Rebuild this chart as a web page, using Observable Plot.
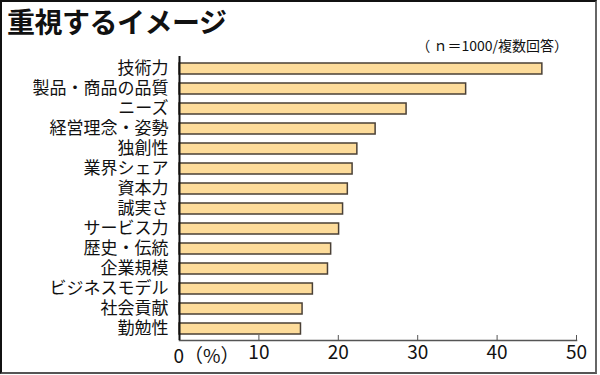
<!DOCTYPE html>
<html><head><meta charset="utf-8">
<script src="https://cdn.jsdelivr.net/npm/d3@7"></script>
<script src="https://cdn.jsdelivr.net/npm/@observablehq/plot@0.6"></script>
<style>
body{margin:0;background:#fff;}
#wrap{position:relative;width:600px;height:375px;overflow:hidden;background:#fff;font-family:"Noto Sans CJK JP",sans-serif;}
#border{position:absolute;left:0;top:0;width:597px;height:374px;box-sizing:border-box;border-left:2px solid #111;border-top:2px solid #111;border-right:2px solid #666;border-bottom:2px solid #555;pointer-events:none;}
#title{position:absolute;left:7px;top:2px;font-size:28px;font-weight:bold;color:#111;letter-spacing:-0.5px;line-height:38px;}
#note{position:absolute;right:32px;top:36px;font-size:14px;color:#111;line-height:18px;}
#chart{position:absolute;left:0;top:50px;}
</style></head>
<body>
<div id="wrap">
<div id="title">重視するイメージ</div>
<div id="note">（ ｎ＝1000/複数回答）</div>
<div id="chart"></div>
<div id="border"></div>
</div>
<script>
const categories = ["技術力","製品・商品の品質","ニーズ","経営理念・姿勢","独創性","業界シェア","資本力","誠実さ","サービス力","歴史・伝統","企業規模","ビジネスモデル","社会貢献","勤勉性"];
const values = [45.7, 36.1, 28.6, 24.7, 22.4, 21.8, 21.2, 20.6, 20.1, 19.1, 18.7, 16.8, 15.5, 15.3];
const xTicks = [10, 20, 30, 40, 50];
const zeroLabel = ["0（%）"];

const data = categories.map((c, i) => ({category: c, value: values[i]}));

const chart = Plot.plot({
  width: 600,
  height: 322,
  marginLeft: 179,
  marginRight: 24,
  marginTop: 6,
  marginBottom: 32,
  style: {fontFamily: "'Noto Sans CJK JP', sans-serif", color: "#111", background: "transparent"},
  x: {domain: [0, 50]},
  y: {domain: categories, paddingInner: 0.455, paddingOuter: 0.26},
  marks: [
    Plot.barX(data, {x: "value", y: "category", fill: "#fddc9b", stroke: "#4a4036", strokeWidth: 1.5}),
    Plot.frame({anchor: "bottom", stroke: "#555", strokeWidth: 1.5}),
    Plot.ruleX([0], {stroke: "#111", strokeWidth: 2}),
    Plot.axisY({tickSize: 0, tickPadding: 11, fontSize: 17, label: null}),
    Plot.axisX({ticks: xTicks, tickSize: -5, tickPadding: 10, stroke: "#555", fontSize: 19, label: null,
      fontFamily: "'Liberation Sans Narrow', 'Noto Sans CJK JP', sans-serif"}),
    Plot.text(zeroLabel, {x: () => 0, frameAnchor: "bottom", textAnchor: "start", dx: -6, dy: 22, fontSize: 19,
      fontFamily: "'Liberation Sans Narrow', 'Noto Sans CJK JP', sans-serif", text: d => d})
  ]
});
document.getElementById("chart").appendChild(chart);
</script>
</body></html>
